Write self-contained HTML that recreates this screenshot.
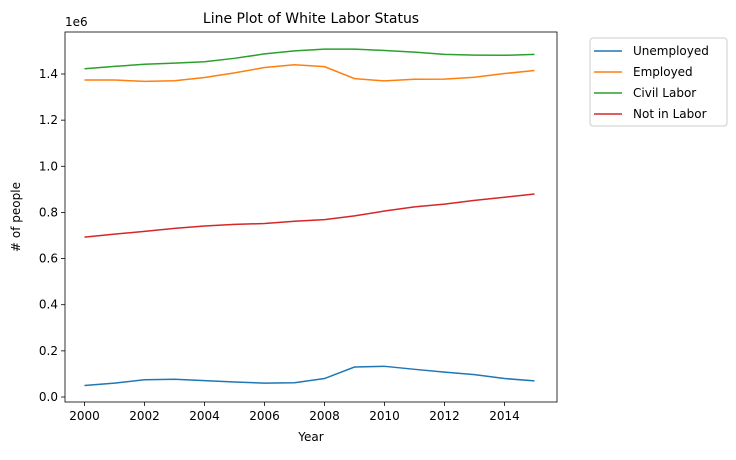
<!DOCTYPE html>
<html><head><meta charset="utf-8"><style>
body{margin:0;background:#fff;font-family:"Liberation Sans","DejaVu Sans",sans-serif;}
svg text{font-family:"DejaVu Sans","Liberation Sans",sans-serif;}
</style></head><body>
<svg id="c" width="736" height="455" xmlns="http://www.w3.org/2000/svg"></svg>
<script>
const years=[2000,2001,2002,2003,2004,2005,2006,2007,2008,2009,2010,2011,2012,2013,2014,2015];
const unemployed=[0.05,0.06,0.075,0.077,0.071,0.065,0.06,0.062,0.08,0.13,0.133,0.12,0.108,0.097,0.08,0.07];
const employed=[1.374,1.374,1.368,1.371,1.385,1.405,1.428,1.44,1.432,1.38,1.37,1.377,1.378,1.386,1.402,1.415];
const civilLabor=[1.423,1.433,1.442,1.447,1.453,1.468,1.487,1.5,1.508,1.508,1.502,1.495,1.485,1.482,1.481,1.485];
const notInLabor=[0.693,0.706,0.718,0.731,0.741,0.748,0.752,0.762,0.769,0.785,0.806,0.824,0.836,0.852,0.866,0.88];
const seriesNames=["Unemployed","Employed","Civil Labor","Not in Labor"];
const xTicks=[2000,2002,2004,2006,2008,2010,2012,2014];
const yTicks=[0,0.2,0.4,0.6,0.8,1.0,1.2,1.4];

const svg=document.getElementById('c');
const NS='http://www.w3.org/2000/svg';
const L=65,R=557,T=32,B=402;
const x=v=>84.5+(v-2000)*30;
const y=v=>397-v*(397-74)/1.4;
function el(t,a,p){const e=document.createElementNS(NS,t);for(const k in a)e.setAttribute(k,a[k]);(p||svg).appendChild(e);return e;}

const title=el('text',{x:(L+R)/2,y:23,'text-anchor':'middle','font-size':14,fill:'#000'});
title.textContent='Line Plot of White Labor Status';



xTicks.forEach(v=>{
  const g=el('g',{});
  
  
  el('line',{x1:x(v),x2:x(v),y1:B,y2:B+4,stroke:'#000','stroke-width':0.8},g);
  const t=el('text',{x:x(v),y:B+18,'text-anchor':'middle','font-size':12},g);t.textContent=v;
});
yTicks.forEach(v=>{
  const g=el('g',{});
  
  
  el('line',{x1:L-4,x2:L,y1:y(v),y2:y(v),stroke:'#000','stroke-width':0.8},g);
  const t=el('text',{x:L-7,y:y(v)+4,'text-anchor':'end','font-size':12},g);t.textContent=v.toFixed(1);
});
const sc=el('text',{x:L,y:T-6,'font-size':12});sc.textContent='1e6';


const xl=el('text',{x:(L+R)/2,y:441,'text-anchor':'middle','font-size':12});xl.textContent='Year';


const yl=el('text',{x:0,y:0,'text-anchor':'middle','font-size':12,transform:`translate(20,${(T+B)/2}) rotate(-90)`});yl.textContent='# of people';



const colors=['#1f77b4','#ff7f0e','#2ca02c','#d62728'];
[unemployed,employed,civilLabor,notInLabor].forEach((s,i)=>{
  const p=el('polyline',{points:s.map((v,j)=>x(years[j])+','+y(v)).join(' '),fill:'none',stroke:colors[i],'stroke-width':1.5});
  
  
});
const frame=el('rect',{x:L,y:T,width:R-L,height:B-T,fill:'none',stroke:'#000','stroke-width':0.8});



const lg=el('g',{});


el('rect',{x:590,y:38,width:137,height:88,rx:3,fill:'#fff',stroke:'#ccc','stroke-width':1},lg);
seriesNames.forEach((n,i)=>{
  const g=el('g',{},lg);
  
  
  const yy=51+i*21;
  el('line',{x1:594,x2:622,y1:yy,y2:yy,stroke:colors[i],'stroke-width':1.5},g);
  const t=el('text',{x:633,y:yy+4,'font-size':12},g);t.textContent=n;
});
</script>
</body></html>
